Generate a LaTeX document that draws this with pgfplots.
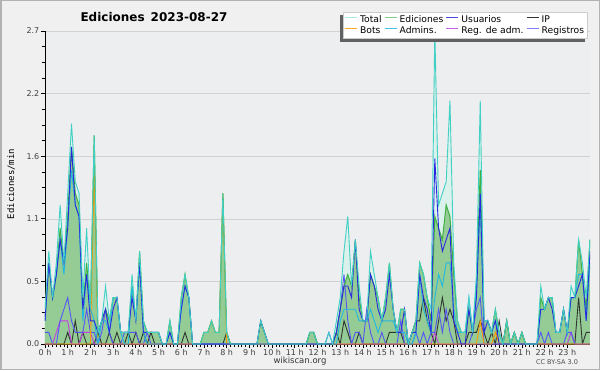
\documentclass[border=0pt]{standalone}
\usepackage{pgfplots}
\pgfplotsset{compat=1.18}
\usepackage{pgfplotstable}
\usepackage{fontspec}
\setmainfont{DejaVu Sans}
\newfontfamily\monofont{DejaVu Sans Mono}
\usetikzlibrary{calc}

\definecolor{cBg}{HTML}{F0F0F0}
\definecolor{cPlot}{HTML}{EDEEF0}
\definecolor{cTot}{HTML}{40D0C4}
\definecolor{cTotFill}{HTML}{DAF1EC}
\definecolor{cEd}{HTML}{40B040}
\definecolor{cEdFill}{HTML}{95CB95}
\definecolor{cUs}{HTML}{2828E0}
\definecolor{cIP}{HTML}{303530}
\definecolor{cBots}{HTML}{FF9900}
\definecolor{cAdm}{HTML}{20B8E0}
\definecolor{cRA}{HTML}{C040E0}
\definecolor{cReg}{HTML}{5555F5}

\pgfplotstableread{
i Tot Ed Us Adm IP Bots Reg RA
0 0.3 0.2 0.2 0.2 0 0 0.1 0
1 0.8 0.7 0.7 0.7 0 0 0.1 0
2 0.4 0.4 0.4 0.4 0 0 0 0
3 0.7 0.6 0.6 0.6 0 0 0 0.1
4 1.2 1.0 0.9 0.9 0 0 0.2 0.2
5 0.7 0.7 0.7 0.6 0 0 0.3 0.2
6 1.3 1.1 1.0 1.0 0.1 0 0.4 0.2
7 1.9 1.7 1.7 1.5 0 0 0.2 0
8 1.4 1.3 1.2 1.2 0.2 0 0.1 0
9 1.3 1.2 1.1 1.1 0 0 0.1 0
10 0.4 0.3 0.3 0.2 0.1 0 0.1 0.1
11 1.0 0.7 0.6 0.6 0 0 0.3 0.1
12 0.3 0.3 0.2 0.3 0 0 0.1 0.1
13 1.8 1.8 0.2 0.2 0 1.5 0.1 0
14 0.1 0.1 0.1 0 0.1 0 0 0
15 0.2 0.2 0.2 0.2 0 0 0.1 0
16 0.5 0.3 0.3 0.2 0 0 0.3 0
17 0.2 0.2 0.1 0.1 0.1 0 0.1 0
18 0.4 0.4 0.3 0.4 0 0 0 0
19 0.4 0.4 0.4 0.4 0.1 0 0 0
20 0.1 0.1 0.1 0.1 0 0 0 0
21 0.1 0.1 0.1 0 0 0 0.1 0
22 0.1 0.1 0.1 0 0.1 0 0.1 0
23 0.6 0.5 0.4 0.5 0 0 0.1 0
24 0.2 0.2 0.2 0.2 0.1 0 0.1 0
25 0.8 0.8 0.7 0.7 0 0 0 0
26 0.2 0.2 0.1 0.1 0.1 0 0 0
27 0.1 0.1 0.1 0 0 0 0.1 0
28 0.1 0.1 0.1 0 0.1 0 0 0
29 0.1 0.1 0.1 0 0 0 0 0
30 0.1 0.1 0.1 0 0 0 0 0
31 0 0 0 0 0 0 0 0
32 0 0 0 0 0 0 0 0
33 0.2 0.2 0.1 0.1 0 0 0 0
34 0 0 0 0 0 0 0 0
35 0 0 0 0 0 0 0 0
36 0.4 0.4 0.3 0.3 0 0 0 0
37 0.6 0.6 0.5 0.5 0.1 0 0 0
38 0.4 0.4 0.4 0.4 0 0 0 0
39 0 0 0 0 0 0 0 0
40 0 0 0 0 0 0 0 0
41 0 0 0 0 0 0 0 0
42 0.1 0.1 0 0 0 0.1 0 0
43 0.1 0.1 0 0 0 0.1 0 0
44 0.2 0.2 0 0 0 0.2 0 0
45 0.1 0.1 0 0 0 0.1 0 0
46 0.1 0.1 0 0 0 0.1 0 0
47 1.3 1.3 0 0 0 1.3 0 0
48 0.1 0.1 0 0 0.1 0 0 0
49 0 0 0 0 0 0 0 0
50 0 0 0 0 0 0 0 0
51 0 0 0 0 0 0 0 0
52 0 0 0 0 0 0 0 0
53 0 0 0 0 0 0 0 0
54 0 0 0 0 0 0 0 0
55 0 0 0 0 0 0 0 0
56 0 0 0 0 0 0 0 0
57 0.2 0.2 0.2 0 0 0 0 0
58 0.1 0.1 0.1 0 0 0 0 0
59 0 0 0 0 0 0 0 0
60 0 0 0 0 0 0 0 0
61 0 0 0 0 0 0 0 0
62 0 0 0 0 0 0 0 0
63 0 0 0 0 0 0 0 0
64 0 0 0 0 0 0 0 0
65 0 0 0 0 0 0 0 0
66 0 0 0 0 0 0 0 0
67 0 0 0 0 0 0 0 0
68 0 0 0 0 0 0 0 0
69 0 0 0 0 0 0 0 0
70 0.1 0.1 0 0 0.1 0 0 0
71 0.1 0.1 0 0 0.1 0 0 0
72 0 0 0 0 0 0 0 0
73 0 0 0 0 0 0 0 0
74 0 0 0 0 0 0 0 0
75 0.1 0 0 0 0 0 0.1 0
76 0 0 0 0 0 0 0 0
77 0.2 0.1 0.1 0 0.1 0 0.1 0
78 0.4 0.3 0.3 0.2 0 0 0.3 0
79 0.8 0.5 0.5 0.3 0.2 0 0.6 0
80 1.1 0.6 0.5 0.3 0.1 0 0.2 0
81 0.5 0.5 0.4 0.3 0 0 0 0
82 0.9 0.9 0.9 0.3 0 0 0.1 0
83 0.5 0.4 0.3 0.2 0.1 0 0.1 0
84 0.2 0.2 0.2 0.2 0 0 0 0
85 0.2 0.2 0.2 0.2 0 0 0.3 0
86 0.8 0.6 0.6 0.3 0 0 0.1 0
87 0.6 0.5 0.5 0.2 0 0 0 0
88 0.4 0.4 0.3 0.1 0 0 0 0
89 0.2 0.2 0.2 0.2 0 0 0.1 0
90 0.4 0.4 0.3 0.2 0 0 0 0
91 0.7 0.7 0.6 0.2 0.1 0 0 0
92 0.3 0.3 0.3 0.2 0.1 0 0 0
93 0.1 0.1 0.1 0.1 0.1 0 0 0
94 0.3 0.3 0.1 0.1 0.1 0 0.2 0
95 0.3 0.3 0.3 0.1 0 0 0 0
96 0 0 0 0 0 0 0 0
97 0.1 0.1 0.1 0 0.1 0 0 0
98 0.2 0.2 0.1 0.1 0.2 0 0.1 0
99 0.7 0.7 0.6 0.6 0.2 0 0 0
100 0.6 0.6 0.4 0.3 0.4 0 0.1 0
101 0.4 0.4 0.3 0.2 0.2 0 0 0
102 0.3 0.2 0.1 0.1 0.1 0 0.1 0
103 2.7 1.1 1.6 0.4 0 0 0.1 0.1
104 1.2 1.0 1.0 0.6 0.2 0 0.3 0
105 1.3 0.9 0.8 0.5 0.4 0 0.1 0
106 1.4 1.2 0.9 0.7 0.2 0 0.3 0
107 2.1 1.1 1.0 0.7 0.3 0 0.1 0
108 0.7 0.6 0.2 0.3 0.2 0 0 0
109 0.2 0.2 0.1 0.1 0 0 0 0
110 0.1 0.1 0 0.1 0 0 0 0
111 0.1 0.1 0 0.1 0 0 0 0
112 0.4 0.3 0.3 0.4 0.1 0 0 0
113 0.1 0.1 0.1 0.1 0.1 0 0.1 0
114 0.6 0.5 0.4 0.5 0.1 0 0.3 0
115 2.1 1.5 1.3 1.2 0.2 0.2 0.4 0
116 0.2 0.2 0.1 0.2 0.1 0 0 0
117 0.2 0.2 0.2 0.2 0 0 0 0
118 0.1 0.1 0.1 0.1 0.1 0 0 0
119 0.3 0.3 0.2 0.2 0 0.1 0 0
120 0.1 0.1 0 0.1 0.2 0 0 0
121 0 0 0 0 0 0 0 0
122 0.2 0.2 0 0 0.2 0 0 0
123 0 0 0 0 0 0 0 0
124 0.1 0.1 0 0 0.1 0 0 0
125 0 0 0 0 0 0 0 0
126 0.1 0.1 0 0 0.1 0 0 0
127 0 0 0 0 0 0 0 0
128 0 0 0 0 0 0 0 0
129 0 0 0 0 0 0 0 0
130 0 0 0 0 0 0 0 0
131 0.5 0.4 0.3 0.3 0 0 0.1 0
132 0.3 0.3 0.3 0.3 0 0 0 0
133 0.4 0.4 0.4 0.4 0 0 0.1 0
134 0.4 0.4 0.3 0.4 0 0 0 0
135 0.1 0.1 0.1 0.1 0 0 0 0
136 0.1 0.1 0.1 0.1 0 0 0 0
137 0.3 0.3 0.3 0.3 0 0 0 0
138 0.1 0.1 0.1 0.1 0 0 0.1 0
139 0.5 0.4 0.4 0.4 0 0 0.1 0.1
140 0.4 0.4 0.4 0.4 0 0 0 0
141 0.9 0.9 0.5 0.6 0.4 0 0 0
142 0.7 0.6 0.6 0.6 0 0 0 0
143 0.4 0.3 0.2 0.2 0.1 0 0 0
144 0.9 0.9 0.8 0.7 0.1 0 0 0
}\data

\begin{document}
\begin{tikzpicture}[x=1pt,y=1pt]
\useasboundingbox (0,0) rectangle (600,370);
\fill[cBg] (0,0) rectangle (600,370);
\draw[gray!60, line width=1.5pt] (0.75,0.75) rectangle (599.25,369.25);
\begin{axis}[
  at={(45pt,26pt)}, anchor=south west,
  scale only axis, width=545pt, height=313pt,
  xmin=0, xmax=24, ymin=0, ymax=2.7,
  axis x line*=bottom, axis y line*=left,
  axis line style={-, black, line width=0.8pt},
  xtick={0,...,23},
  xticklabels={0 h,1 h,2 h,3 h,4 h,5 h,6 h,7 h,8 h,9 h,10 h,11 h,12 h,13 h,14 h,15 h,16 h,17 h,18 h,19 h,20 h,21 h,22 h,23 h},
  minor x tick num=5,
  ytick={0,0.54,1.08,1.62,2.16,2.7},
  yticklabels={0.0,0.5,1.1,1.6,2.2,2.7},
  minor y tick num=3,
  tick align=outside, major tick length=4pt, minor tick length=3pt,
  tick style={black, line width=0.7pt},
  ymajorgrids, grid style={gray!35, line width=0.6pt},
  ticklabel style={font=\fontsize{8}{9}\selectfont, text=black!75},
  xticklabel style={inner sep=1pt},
  yticklabel style={inner sep=1.5pt},
  axis background/.style={fill=cPlot},
  legend columns=4,
  legend cell align=left,
  legend image code/.code={\draw[#1, line width=1.1pt] (0pt,0.5ex) -- (12pt,0.5ex);},
  legend style={name=leg, at={(0.996,1.061)}, anchor=north east, fill=white, draw=gray!40,
    font=\fontsize{9.2}{10}\selectfont, inner sep=1.5pt,
    /tikz/every even column/.append style={column sep=0.5pt},
    /tikz/every odd column/.append style={column sep=0.5pt},
    row sep=-1.5pt},
]
\addlegendimage{cTot!45}\addlegendentry{Total}
\addlegendimage{cEd!65}\addlegendentry{Ediciones}
\addlegendimage{cUs!85}\addlegendentry{Usuarios}
\addlegendimage{cIP}\addlegendentry{IP}
\addlegendimage{cBots!85}\addlegendentry{Bots}
\addlegendimage{cAdm!85}\addlegendentry{Admins.}
\addlegendimage{cRA!85}\addlegendentry{Reg. de adm.}
\addlegendimage{cReg!75}\addlegendentry{Registros}

\addplot[draw=none, fill=cTotFill, mark=none, forget plot] table[x expr=\thisrow{i}/6, y=Tot]{\data} \closedcycle;
\addplot[draw=none, fill=cEdFill, mark=none, forget plot] table[x expr=\thisrow{i}/6, y=Ed]{\data} \closedcycle;
\addplot[cIP, line width=0.9pt, mark=none, forget plot] table[x expr=\thisrow{i}/6, y=IP]{\data};
\addplot[cRA, line width=0.9pt, mark=none, forget plot] table[x expr=\thisrow{i}/6, y=RA]{\data};
\addplot[cReg, line width=0.9pt, mark=none, forget plot] table[x expr=\thisrow{i}/6, y=Reg]{\data};
\addplot[cBots, line width=0.9pt, mark=none, forget plot] table[x expr=\thisrow{i}/6, y=Bots]{\data};
\addplot[cEd, line width=1pt, mark=none, forget plot] table[x expr=\thisrow{i}/6, y=Ed]{\data};
\addplot[cAdm, line width=0.9pt, mark=none, forget plot] table[x expr=\thisrow{i}/6, y=Adm]{\data};
\addplot[cUs, line width=0.9pt, mark=none, forget plot] table[x expr=\thisrow{i}/6, y=Us]{\data};
\addplot[cTot, line width=0.9pt, mark=none, forget plot] table[x expr=\thisrow{i}/6, y=Tot]{\data};
\end{axis}
\fill[black!62] ($(leg.south west)+(-3,-3)$) rectangle ($(leg.north west)+(0,-3)$);
\fill[black!62] ($(leg.south west)+(-3,-3)$) rectangle ($(leg.south east)+(-3,0)$);
\node[font=\bfseries\fontsize{12}{14}\selectfont] at (154,353) {Ediciones\hspace{0.5em}2023-08-27};
\node[rotate=90, font=\monofont\fontsize{9}{10}\selectfont] at (11,186) {Ediciones/min};
\node[font=\fontsize{8.5}{10}\selectfont, text=black!80] at (300,9) {wikiscan.org};
\node[font=\fontsize{6.5}{8}\selectfont, text=black!70] at (557,8) {CC BY-SA 3.0};
\end{tikzpicture}
\end{document}
